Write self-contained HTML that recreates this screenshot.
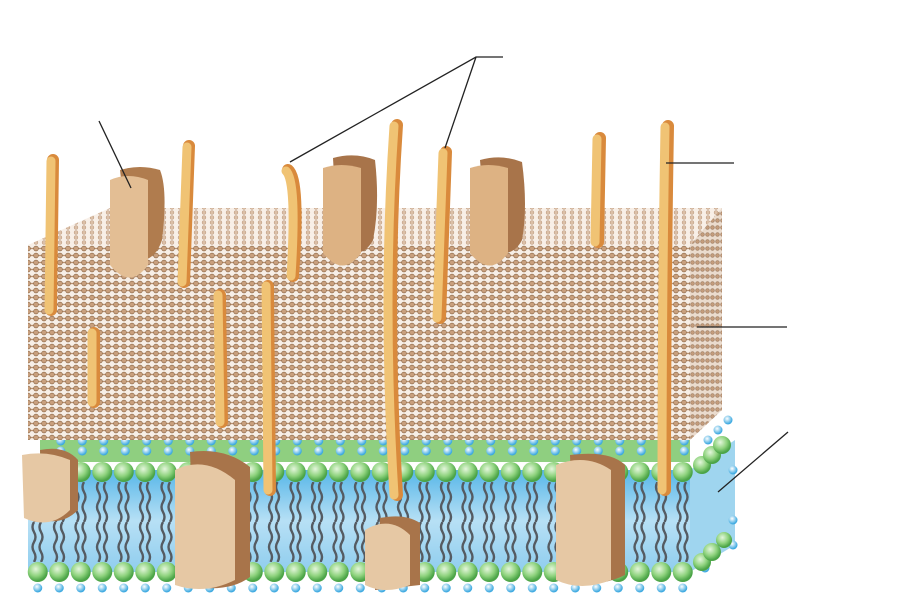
<!DOCTYPE html>
<html><head><meta charset="utf-8"><style>html,body{margin:0;padding:0;background:#fff;width:900px;height:599px;overflow:hidden}</style></head>
<body>
<svg width="900" height="599" viewBox="0 0 900 599" xmlns="http://www.w3.org/2000/svg">
<defs>
<pattern id="pg" width="8" height="7" patternUnits="userSpaceOnUse">
<rect width="8" height="7" fill="#f7efe7"/>
<line x1="0" y1="3.5" x2="8" y2="3.5" stroke="#b8906f" stroke-width="1.3"/>
<circle cx="4" cy="3.5" r="2.4" fill="#c9a07e" stroke="#94704f" stroke-width="0.7"/>
</pattern>
<pattern id="pgt" width="8" height="5" patternUnits="userSpaceOnUse">
<rect width="8" height="5" fill="#f8efe7"/>
<circle cx="4" cy="2.5" r="1.9" fill="#dcc0a8" stroke="#b89478" stroke-width="0.5"/>
</pattern>
<pattern id="pgr" width="5" height="7" patternUnits="userSpaceOnUse">
<rect width="5" height="7" fill="#eadbcd"/>
<circle cx="2.5" cy="3.5" r="1.9" fill="#c39c7c" stroke="#8f6c50" stroke-width="0.5"/>
</pattern>
<radialGradient id="gs" cx="0.4" cy="0.35" r="0.6"><stop offset="0" stop-color="#e4f6dc"/><stop offset="0.6" stop-color="#8fd37e"/><stop offset="1" stop-color="#4ba447"/></radialGradient>
<radialGradient id="bs" cx="0.4" cy="0.35" r="0.6"><stop offset="0" stop-color="#ffffff"/><stop offset="1" stop-color="#3aa8e0"/></radialGradient>
<pattern id="grow" width="21.5" height="22" patternUnits="userSpaceOnUse" x="27" y="461">
<circle cx="10.75" cy="11" r="10" fill="url(#gs)"/>
</pattern>
<pattern id="grow2" width="21.5" height="22" patternUnits="userSpaceOnUse" x="27" y="561">
<circle cx="10.75" cy="11" r="10" fill="url(#gs)"/>
</pattern>
<pattern id="brow" width="21.5" height="10" patternUnits="userSpaceOnUse" x="50" y="436">
<circle cx="10.75" cy="5" r="4.5" fill="url(#bs)"/>
</pattern>
<pattern id="brow2" width="21.5" height="10" patternUnits="userSpaceOnUse" x="27" y="583">
<circle cx="10.75" cy="5" r="4.5" fill="url(#bs)"/>
</pattern>
<pattern id="tails" width="21.5" height="40" patternUnits="userSpaceOnUse" x="27" y="482">
<path d="M7 0 q-3 5 0 10 t0 10 t0 10 t0 10" fill="none" stroke="#555b62" stroke-width="2.4"/>
<path d="M14 0 q-3 5 0 10 t0 10 t0 10 t0 10" fill="none" stroke="#555b62" stroke-width="2.4"/>
</pattern>
<linearGradient id="memb" x1="0" y1="0" x2="0" y2="1"><stop offset="0" stop-color="#56b6e8"/><stop offset="0.5" stop-color="#b7e0f5"/><stop offset="1" stop-color="#8fcdee"/></linearGradient>
</defs>

<!-- membrane -->
<rect x="28" y="470" width="662" height="102" fill="url(#memb)"/>
<polygon points="690,470 735,440 735,545 690,572" fill="#9fd5ef"/>
<rect x="28" y="482" width="662" height="80" fill="url(#tails)"/>
<rect x="40" y="440" width="650" height="22" fill="#8fcf80"/>
<rect x="50" y="436" width="640" height="20" fill="url(#brow)"/>
<rect x="27" y="461" width="666" height="22" fill="url(#grow)"/>
<rect x="27" y="561" width="666" height="22" fill="url(#grow2)"/>
<rect x="27" y="583" width="666" height="10" fill="url(#brow2)"/>
<g fill="url(#bs)">
<circle cx="728" cy="420" r="4.5"/><circle cx="733" cy="470" r="4.5"/><circle cx="733" cy="520" r="4.5"/><circle cx="733" cy="545" r="4.5"/><circle cx="705" cy="568" r="4.5"/><circle cx="718" cy="430" r="4.5"/><circle cx="708" cy="440" r="4.5"/>
</g>
<g fill="url(#gs)"><circle cx="702" cy="465" r="9"/><circle cx="712" cy="455" r="9"/><circle cx="722" cy="445" r="9"/><circle cx="702" cy="562" r="9"/><circle cx="712" cy="552" r="9"/><circle cx="724" cy="540" r="8"/></g>

<!-- peptidoglycan -->
<polygon points="28,245 110,208 722,208 690,245" fill="url(#pgt)"/>
<polygon points="690,245 722,208 722,410 690,440" fill="url(#pgr)"/>
<rect x="28" y="245" width="662" height="195" fill="url(#pg)"/>

<!-- proteins -->
<g>
<path d="M120 170 q20 -6 40 0 q8 20 2 70 q-8 25 -32 20 z" fill="#b07c4e"/>
<path d="M110 180 q18 -8 38 0 l0 85 q-18 25 -38 0 z" fill="#e3be94"/>
<path d="M333 158 q22 -6 42 2 q5 45 -2 80 q-10 20 -35 10 z" fill="#a8744a"/>
<path d="M323 168 q18 -6 38 0 l0 85 q-18 25 -38 0 z" fill="#ddb283"/>
<path d="M480 160 q22 -6 42 2 q6 45 0 78 q-10 20 -35 10 z" fill="#a8744a"/>
<path d="M470 168 q18 -6 38 0 l0 85 q-18 25 -38 0 z" fill="#ddb283"/>
<path d="M40 450 q25 -5 38 10 l0 50 q-15 15 -35 10 z" fill="#a8744a"/>
<path d="M22 455 q25 -5 48 5 l0 50 q-20 20 -46 8 z" fill="#e6c8a4"/>
<path d="M190 452 q35 -5 60 15 l0 110 q-20 15 -55 10 z" fill="#a8744a"/>
<path d="M175 470 q30 -15 60 10 l0 100 q-30 15 -60 5 z" fill="#e6c8a4"/>
<path d="M380 518 q25 -5 40 5 l0 62 l-45 5 z" fill="#a8744a"/>
<path d="M365 530 q25 -15 45 5 l0 50 q-25 10 -45 0 z" fill="#e6c8a4"/>
<path d="M570 455 q40 -5 55 10 l0 110 q-20 10 -50 10 z" fill="#a8744a"/>
<path d="M556 465 q30 -12 55 5 l0 110 q-30 12 -55 0 z" fill="#e6c8a4"/>
</g>

<!-- teichoic acids -->
<g stroke-linecap="round" fill="none">
<g stroke="#d98a3c" stroke-width="12">
<path d="M53 160 L51 310"/><path d="M94 333 L94 402"/><path d="M189 146 L184 282"/><path d="M220 295 L222 422"/><path d="M268 286 L270 490"/><path d="M288 170 Q300 180 293 276"/><path d="M397 125 Q385 300 397 495"/><path d="M446 152 L440 318"/><path d="M600 138 L598 242"/><path d="M668 126 Q665 300 665 490"/>
</g>
<g stroke="#f0c374" stroke-width="9">
<path d="M51 161 L49 310"/><path d="M92 333 L92 402"/><path d="M187 147 L182 282"/><path d="M218 295 L220 422"/><path d="M266 286 L268 490"/><path d="M286 171 Q297 181 291 276"/><path d="M394 126 Q382 300 394 495"/><path d="M443 153 L437 318"/><path d="M597 139 L595 242"/><path d="M665 127 Q662 300 662 490"/>
</g>
</g>

<!-- leader lines -->
<g stroke="#222" stroke-width="1.3" fill="none">
<line x1="99" y1="121" x2="131" y2="188"/>
<polyline points="290,162 476,57 503,57"/>
<line x1="476" y1="57" x2="445" y2="148"/>
<line x1="666" y1="163" x2="734" y2="163"/>
<line x1="697" y1="327" x2="787" y2="327"/>
<line x1="718" y1="492" x2="788" y2="432"/>
</g>
</svg>
</body></html>
